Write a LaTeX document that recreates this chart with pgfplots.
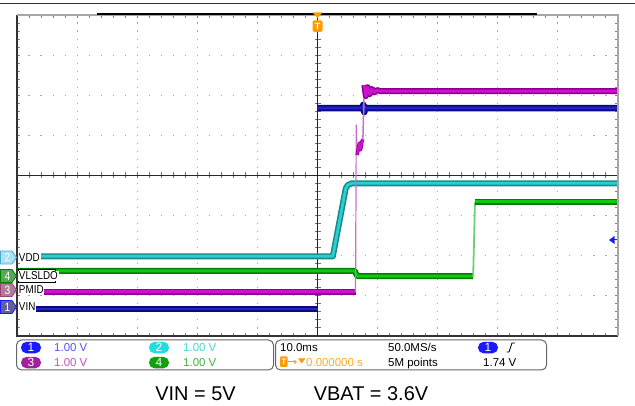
\documentclass[border=0pt]{standalone}
\usepackage{fontspec}
\setmainfont{Liberation Sans}
\newfontfamily\lbl[FakeStretch=0.86]{Liberation Sans}
\usepackage{pgfplots}
\pgfplotsset{compat=1.18}
\usetikzlibrary{arrows.meta}
\definecolor{vinD}{HTML}{0A0A7A}
\definecolor{vinL}{HTML}{2222CC}
\definecolor{vddD}{HTML}{178C8C}
\definecolor{vddL}{HTML}{2CCFCF}
\definecolor{ldoD}{HTML}{067A06}
\definecolor{ldoL}{HTML}{10C810}
\definecolor{ldoE}{HTML}{70D070}
\definecolor{pmD}{HTML}{8A008A}
\definecolor{pmL}{HTML}{D010D0}
\definecolor{pmE}{HTML}{C870C8}
\definecolor{trig}{HTML}{FF9A00}
\definecolor{gridc}{HTML}{A8A8A8}
\definecolor{oA}{HTML}{1A1AFF}
\definecolor{oB}{HTML}{22DDDD}
\definecolor{oC}{HTML}{A020A0}
\definecolor{oD}{HTML}{10A010}
\definecolor{tA}{HTML}{5050FF}
\definecolor{tB}{HTML}{40D8D8}
\definecolor{tC}{HTML}{C050C0}
\definecolor{tD}{HTML}{40B040}
\newcommand\chtag[5]{%
  \filldraw[fill=#2, draw=#3, line width=0.8bp] (0.5,#1-6.5) -- (12,#1-6.5) -- (16.5,#1) -- (12,#1+6.5) -- (0.5,#1+6.5) -- cycle;
  \node[white, inner sep=0] at (7.5,#1) {\lbl\fontsize{12}{12}\selectfont #4};
  \node[anchor=west, fill=white, inner sep=0.8bp, text=black] at (18,#1) {\lbl\fontsize{11.5}{12}\selectfont #5};
}
\newcommand\chip[4]{%
  \fill[#3, rounded corners=5.5bp] (#1,#2-9.8) rectangle (#1+20,#2+1.6);
  \node[white, anchor=base, inner sep=0] at (#1+10,#2-0.3) {\fontsize{12}{12}\selectfont #4};
}
\tikzset{px/.style={x=1bp,y=-1bp,shift={(0,406bp)}}}
\begin{document}
\begin{tikzpicture}
\useasboundingbox (0,0) rectangle (635bp,406bp);
\begin{scope}[px]
% header line
\draw[line width=1.5bp, black!80] (0,3.5) -- (635,3.5);
% dotted grid
\foreach \k in {1,2,3,4,6,7,8,9} {
  \pgfmathsetmacro\xx{17+60.1*\k}
  \draw[gridc, line width=1.1bp, dash pattern=on 1.1bp off 6.925bp, dash phase=0.55bp] (\xx,15) -- (\xx,336);
}
\foreach \k in {1,2,3,5,6,7} {
  \pgfmathsetmacro\yy{15+40.125*\k}
  \draw[gridc, line width=1.1bp, dash pattern=on 1.1bp off 10.92bp, dash phase=0.55bp] (17,\yy) -- (618,\yy);
}
% edge ticks
\draw[black!50, line width=3bp, dash pattern=on 1bp off 7.025bp, dash phase=0.5bp] (18.5,15) -- (18.5,336);
\draw[black!50, line width=3bp, dash pattern=on 1bp off 7.025bp, dash phase=0.5bp] (616.5,15) -- (616.5,336);
\draw[black!50, line width=3bp, dash pattern=on 1bp off 11.02bp, dash phase=0.5bp] (17,16.5) -- (618,16.5);
\draw[black!50, line width=3bp, dash pattern=on 1bp off 11.02bp, dash phase=0.5bp] (17,334.5) -- (618,334.5);
% center lines
\draw[black!55, line width=6bp, dash pattern=on 1bp off 7.025bp, dash phase=0.5bp] (317.5,15) -- (317.5,336);
\draw[black!55, line width=6bp, dash pattern=on 1bp off 11.02bp, dash phase=0.5bp] (17,175.5) -- (618,175.5);
\draw[black!85, line width=1bp] (317.5,15) -- (317.5,336);
\draw[black!85, line width=1bp] (17,175.5) -- (618,175.5);
\end{scope}

\begin{axis}[at={(17bp,70bp)}, anchor=south west, scale only axis,
  width=601bp, height=321bp, xmin=-50, xmax=50, ymin=-4, ymax=4,
  hide axis, clip=true]
% VIN (ch1)
\addplot[draw=vinL, line width=2.6bp, preaction={draw=vinD, line width=6.5bp}]
  coordinates {(-50,-3.327) (0,-3.327)};
\addplot[draw=vinL, line width=2.6bp, line join=round, preaction={draw=vinD, line width=6.5bp}]
  coordinates {(0,1.682) (7.45,1.682) (7.62,1.76) (7.78,1.58) (7.95,1.70) (8.2,1.682) (50,1.682)};
% VDD (ch2)
\addplot[draw=vddL, line width=2.8bp, line join=round, preaction={draw=vddD, line width=6bp}]
  coordinates {(-50,-2.014) (2.55,-2.014) (4.7,-0.32) (5.05,-0.237) (5.7,-0.194) (50,-0.194)};
% VLSLDO (ch4)
\addplot[draw=ldoL, line width=3bp, line join=round, preaction={draw=ldoD, line width=6bp}]
  coordinates {(-50,-2.38) (6.2,-2.38) (6.6,-2.505) (25.9,-2.505)};
\addplot[draw=ldoE, line width=1.8bp]
  coordinates {(25.9,-2.505) (26.2,-0.66)};
\addplot[draw=ldoL, line width=3bp, preaction={draw=ldoD, line width=6bp}]
  coordinates {(26.2,-0.66) (50,-0.66)};
% PMID (ch3)
\addplot[draw=pmL, line width=3bp, preaction={draw=pmD, line width=6bp}]
  coordinates {(-50,-2.903) (6.33,-2.903)};
\addplot[draw=pmE, line width=1.2bp, line join=round]
  coordinates {(6.33,-2.903) (6.45,1.26) (6.6,0.51)};
\addplot[draw=pmL, line width=2bp, line join=round, preaction={draw=pmD, line width=3.5bp}]
  coordinates {(6.6,0.51) (6.8,0.7) (7.0,0.81) (7.17,0.64) (7.4,0.85) (7.55,0.9)};
\addplot[draw=pmE, line width=1.5bp]
  coordinates {(7.55,0.9) (7.8,2.255)};
\addplot[draw=pmL, line width=3bp, line join=round, preaction={draw=pmD, line width=6bp}]
  coordinates {(7.8,2.255) (8.05,1.98) (8.35,2.2) (8.7,2.03) (9.05,2.16) (9.45,2.07) (9.9,2.13) (10.5,2.1) (50,2.106)};
\end{axis}

\begin{scope}[px]
% frame
\draw[black!80, line width=1.5bp] (17,15) -- (17,336) -- (618,336);
\draw[gray!70, line width=1.5bp] (17,15) -- (618,15) -- (618,336);
\draw[black, line width=2bp] (97,14.5) -- (537,14.5);

% trigger marker top
\fill[trig] (312.5,12.5) -- (322.5,12.5) -- (317.5,18) -- cycle;
\fill[trig, rounded corners=1.5bp] (312.5,20.5) rectangle (322.5,32);
\node[white, inner sep=0] at (317.5,26.5) {\fontsize{9}{9}\selectfont\bfseries T};
% trigger level arrow (right)
\fill[oA] (609,240) -- (614.5,236) -- (614.5,244) -- cycle;
\draw[oA, line width=1bp] (614,240) -- (617,240);

% channel tags
\chtag{257.5}{cyan!35}{cyan!60!gray}{2}{VDD}
\fill[white] (17.8,269.6) rectangle (55.5,282);
\draw[black, line width=0.6bp] (17.8,269.6) rectangle (55.5,282);
\chtag{276}{green!30!gray}{green!50!black}{4}{VLSLDO}
\chtag{290}{magenta!30!gray}{magenta!60!black}{3}{PMID}
\chtag{307}{blue!25!gray}{oA}{1}{VIN}

% info panel
\draw[black!60, line width=1bp, rounded corners=5bp] (16.5,340) rectangle (273.5,370);
\draw[black!60, line width=1bp, rounded corners=5bp] (275.5,340) rectangle (546.5,370);
\chip{21}{351.7}{oA}{1}
\chip{149}{351.7}{oB}{2}
\chip{21}{366.7}{oC}{3}
\chip{149}{366.7}{oD}{4}
\node[anchor=base west, inner sep=0, text=tA] at (54,351.7) {\fontsize{11.5}{13}\selectfont 1.00 V};
\node[anchor=base west, inner sep=0, text=tB] at (183,351.7) {\fontsize{11.5}{13}\selectfont 1.00 V};
\node[anchor=base west, inner sep=0, text=tC] at (54,366.7) {\fontsize{11.5}{13}\selectfont 1.00 V};
\node[anchor=base west, inner sep=0, text=tD] at (183,366.7) {\fontsize{11.5}{13}\selectfont 1.00 V};

\node[anchor=base west, inner sep=0] at (280,351.7) {\fontsize{11.5}{13}\selectfont 10.0ms};
\node[anchor=base west, inner sep=0] at (388,351.7) {\fontsize{11.5}{13}\selectfont 50.0MS/s};
\chip{478}{351.7}{oA}{1}
\draw[black, line width=0.8bp] (506.5,352) -- (509,352) -- (512,343) -- (515,343);
\fill[trig, rounded corners=1bp] (280,356.5) rectangle (287.5,367);
\node[white, inner sep=0] at (283.75,361.8) {\fontsize{8}{8}\selectfont\bfseries T};
\draw[trig, line width=1bp, -{Stealth[length=3bp,width=4bp]}] (288,362) -- (297,362);
\fill[trig] (298,358.3) -- (305.5,358.3) -- (301.75,363.5) -- cycle;
\node[anchor=base west, inner sep=0, text=trig!85!white] at (306,366.7) {\fontsize{11.5}{13}\selectfont 0.000000 s};
\node[anchor=base west, inner sep=0] at (388,366.7) {\fontsize{11.5}{13}\selectfont 5M points};
\node[anchor=base west, inner sep=0] at (483,366.7) {\fontsize{11.5}{13}\selectfont 1.74 V};

% bottom caption
\node[anchor=base, inner sep=0] at (195.5,401) {\fontsize{20}{22}\selectfont VIN = 5V};
\node[anchor=base, inner sep=0] at (371,401) {\fontsize{20}{22}\selectfont VBAT = 3.6V};
\end{scope}
\end{tikzpicture}
\end{document}
